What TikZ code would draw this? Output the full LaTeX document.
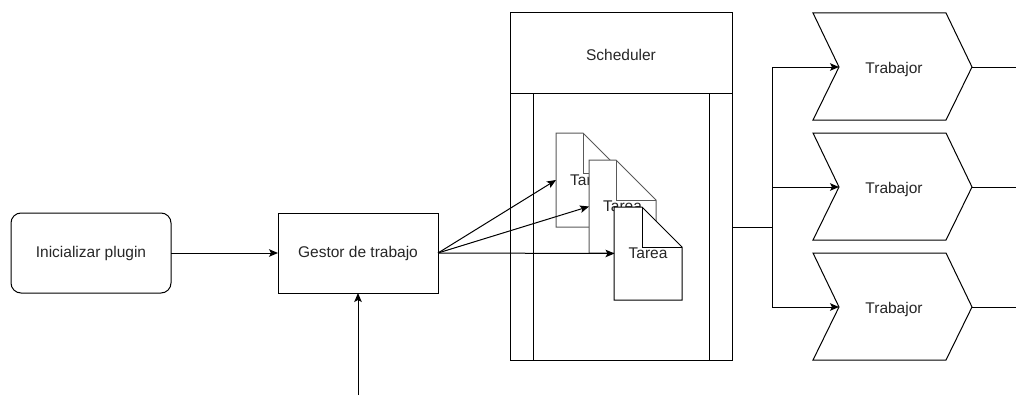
\documentclass[tikz,border=0pt]{standalone}
\usepackage{fontspec}
\setmainfont{Liberation Sans}
\usetikzlibrary{arrows.meta}
\begin{document}
\begin{tikzpicture}[x=1pt,y=-1pt,line width=1pt,
  every node/.style={font=\fontsize{15.5}{18}\selectfont, text=black!85, outer sep=0pt},
  box/.style={draw, minimum width=160pt, minimum height=80pt},
  roundbox/.style={box, rounded corners=10pt},
  arr/.style={-{Stealth[length=9pt,width=7.5pt,inset=2pt]}},
  docline/.style={draw=black!65, fill=white},
  doctop/.style={draw=black, fill=white},
  lbl/.style={inner sep=0pt, minimum width=67pt, minimum height=93pt}]
\useasboundingbox (0,0) rectangle (1016,396);

% left nodes
\node[roundbox] (init) at (91,253) {Inicializar plugin};
\node[box] (gest) at (358,253) {Gestor de trabajo};
\coordinate (src) at (358,395);

% scheduler container
\node[draw, minimum width=222pt, minimum height=347pt] (sch) at (621,186.5) {};
\node (schlbl) at (621,55) {Scheduler};
\draw (510,93) -- (732,93);
\draw (533,93) -- (533,360);
\draw (709,93) -- (709,360);

% documents
\path[docline] (556,133) -- (583,133) -- (623,173) -- (623,227) -- (556,227) -- cycle;
\draw[black!65] (583,133) -- (583,173) -- (623,173);
\node[lbl] (t1) at (589.5,180) {\raisebox{-3.5pt}{Tarea}};
\path[docline] (589,160) -- (616,160) -- (656,200) -- (656,253) -- (589,253) -- cycle;
\draw[black!65] (616,160) -- (616,200) -- (656,200);
\node[lbl] (t2) at (622.5,206.5) {\raisebox{-3.5pt}{Tarea}};
\path[doctop] (614,207) -- (642,207) -- (682,247) -- (682,300) -- (614,300) -- cycle;
\draw (642,207) -- (642,247) -- (682,247);
\node[lbl] (t3) at (648,253.5) {\raisebox{-3.5pt}{Tarea}};

% workers
\foreach \i/\y in {1/67,2/187,3/307}{
  \draw (813,\y-54) -- (946,\y-54) -- (972,\y) -- (946,\y+53) -- (813,\y+53) -- (839,\y) -- cycle;
  \node (w\i) at (894,\y+2) {Trabajor};
  \coordinate (w\i in) at (839,\y);
  \coordinate (w\i out) at (972,\y);
  \coordinate (w\i end) at (1016,\y);
}

% connectors
\draw[arr] (init) -- (gest);
\draw[arr] (src) -- (gest.south);
\draw[arr] (gest.east) -- (t1.west);
\draw[arr] (gest.east) -- (t2.west);
\draw[arr] (gest.east) -- (t3.west);
\coordinate (sout) at (732,227);
\coordinate (br) at (772,227);
\draw (sout) -- (br);
\foreach \i in {1,2,3}{
  \draw[arr] (br) |- (w\i in);
  \draw (w\i out) -- (w\i end);
}
\end{tikzpicture}
\end{document}
